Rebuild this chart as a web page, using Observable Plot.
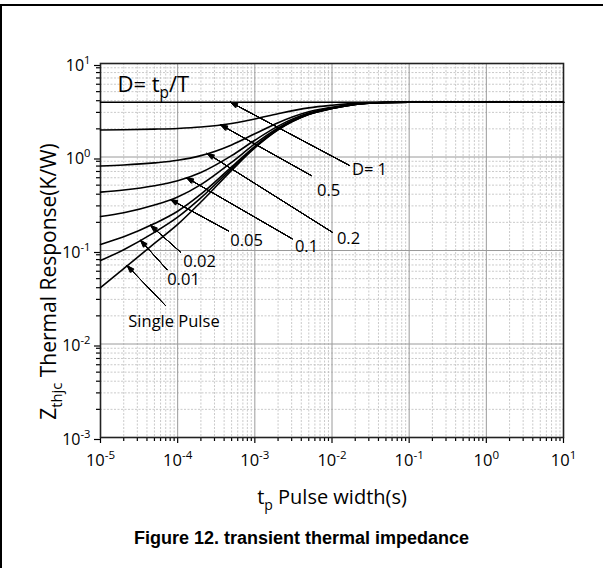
<!DOCTYPE html>
<html>
<head>
<meta charset="utf-8">
<script src="https://cdn.jsdelivr.net/npm/d3@7"></script>
<script src="https://cdn.jsdelivr.net/npm/@observablehq/plot@0.6"></script>
<style>
  html, body { margin: 0; padding: 0; background: #fff; }
  body { width: 603px; height: 568px; position: relative; overflow: hidden; }
  #border { position: absolute; left: 0; top: 3.5px; width: 620px; height: 600px;
            border-top: 2.5px solid #000; border-left: 2px solid #000; box-sizing: border-box; }
  #chart { position: absolute; left: 0; top: 0; }
  #cap { position: absolute; left: 0; top: 528px; width: 603px; text-align: center;
         font: bold 18px "Liberation Sans", Arial, sans-serif; color: #000; }
</style>
</head>
<body>
<div id="border"></div>
<div id="chart"></div>
<div id="cap">Figure 12. transient thermal impedance</div>
<script>
// ---- data ----
const pulseWidth = [1e-5, 2e-5, 5e-5, 1e-4, 2e-4, 5e-4, 1e-3, 2e-3, 5e-3, 1e-2, 2e-2, 5e-2, 1e-1, 1, 10];
const zSingle = [0.040, 0.064, 0.119, 0.190, 0.330, 0.720, 1.250, 1.950, 2.850, 3.300, 3.650, 3.830, 3.850, 3.850, 3.850];
const zD001   = [0.078, 0.102, 0.156, 0.227, 0.365, 0.751, 1.276, 1.969, 2.860, 3.305, 3.652, 3.830, 3.850, 3.850, 3.850];
const zD002   = [0.116, 0.140, 0.194, 0.263, 0.400, 0.783, 1.302, 1.988, 2.870, 3.311, 3.654, 3.830, 3.850, 3.850, 3.850];
const zD005   = [0.231, 0.253, 0.306, 0.373, 0.506, 0.877, 1.380, 2.045, 2.900, 3.330, 3.660, 3.830, 3.850, 3.850, 3.850];
const zD01    = [0.421, 0.443, 0.492, 0.556, 0.682, 1.033, 1.510, 2.140, 2.950, 3.355, 3.670, 3.832, 3.850, 3.850, 3.850];
const zD02    = [0.802, 0.821, 0.865, 0.922, 1.034, 1.346, 1.770, 2.330, 3.050, 3.410, 3.690, 3.834, 3.850, 3.850, 3.850];
const zD05    = [1.945, 1.957, 1.985, 2.020, 2.090, 2.285, 2.550, 2.900, 3.350, 3.575, 3.750, 3.840, 3.850, 3.850, 3.850];
const zD1     = [3.850, 3.850, 3.850, 3.850, 3.850, 3.850, 3.850, 3.850, 3.850, 3.850, 3.850, 3.850, 3.850, 3.850, 3.850];

const seriesNames = ["Single Pulse", "0.01", "0.02", "0.05", "0.1", "0.2", "0.5", "D= 1"];
const seriesValues = [zSingle, zD001, zD002, zD005, zD01, zD02, zD05, zD1];

// annotation labels with arrow tip (on curve), leader end and label centre (data units)
const annoLabel = ["D= 1", "0.5", "0.2", "0.1", "0.05", "0.02", "0.01", "Single Pulse"];
const annoTipT  = [4.84e-4, 3.59e-4, 2.41e-4, 1.30e-4, 8.07e-5, 4.45e-5, 3.30e-5, 2.22e-5];
const annoTipZ  = [3.85, 2.21, 1.092, 0.601, 0.351, 0.186, 0.1286, 0.0687];
const annoEndT  = [0.0169, 5.37e-3, 0.01006, 3.05e-3, 4.56e-4, 1.09e-4, 7.31e-5, 6.95e-5];
const annoEndZ  = [0.811, 0.634, 0.157, 0.1334, 0.1617, 0.0959, 0.0622, 0.0258];
const annoTextT = [0.0306, 9.02e-3, 0.01637, 4.67e-3, 7.80e-4, 1.92e-4, 1.19e-4, 8.96e-5];
const annoTextZ = [0.726, 0.433, 0.134, 0.110, 0.128, 0.0760, 0.0482, 0.0174];

// axis ticks
const xMajor = [1e-5, 1e-4, 1e-3, 1e-2, 1e-1, 1, 10];
const xTickLabels = ["10^{-5}", "10^{-4}", "10^{-3}", "10^{-2}", "10^{-1}", "10^{0}", "10^{1}"];
const yMajor = [1e-3, 1e-2, 1e-1, 1, 10];
const yTickLabels = ["10^{-3}", "10^{-2}", "10^{-1}", "10^{0}", "10^{1}"];
const titleText = "D= t_{p}/T";
const xLabel = "t_{p} Pulse width(s)";
const yLabel = "Z_{thjc} Thermal Response(K/W)";

// ---- build ----
const minorOf = (major) => {
  const out = [];
  for (let i = 0; i < major.length - 1; i++)
    for (let k = 2; k <= 9; k++) out.push(+(k * major[i]).toPrecision(6));
  return out;
};
const xMinor = minorOf(xMajor);
const yMinor = minorOf(yMajor);

const rows = seriesNames.flatMap((name, s) =>
  pulseWidth.map((t, i) => ({D: name, t, z: seriesValues[s][i]})));
const annos = annoLabel.map((label, i) => ({
  label, tipT: annoTipT[i], tipZ: annoTipZ[i], endT: annoEndT[i], endZ: annoEndZ[i],
  textT: annoTextT[i], textZ: annoTextZ[i]
}));

const xFmt = (d) => xTickLabels[xMajor.findIndex(v => Math.abs(Math.log10(v) - Math.log10(d)) < 1e-6)];
const yFmt = (d) => yTickLabels[yMajor.findIndex(v => Math.abs(Math.log10(v) - Math.log10(d)) < 1e-6)];

const headAngles = [8, 16, 24, 32, 40];

const chart = Plot.plot({
  width: 603,
  height: 515,
  marginLeft: 100,
  marginRight: 40,
  marginTop: 63,
  marginBottom: 78,
  style: {fontFamily: "'Open Sans', 'Noto Sans', sans-serif", fontSize: "16px", background: "transparent", color: "#000"},
  x: {type: "log", domain: [1e-5, 10]},
  y: {type: "log", domain: [1e-3, 10]},
  marks: [
    Plot.gridX(xMinor, {stroke: "#bdbdbd", strokeOpacity: 1, strokeWidth: 0.8, strokeDasharray: "2,1.5"}),
    Plot.gridY(yMinor, {stroke: "#bdbdbd", strokeOpacity: 1, strokeWidth: 0.8, strokeDasharray: "2,1.5"}),
    Plot.gridX(xMajor, {stroke: "#9a9a9a", strokeOpacity: 1, strokeWidth: 1}),
    Plot.gridY(yMajor, {stroke: "#9a9a9a", strokeOpacity: 1, strokeWidth: 1}),
    Plot.axisX(xMinor, {tickSize: 4, tickFormat: () => "", strokeWidth: 1.2}),
    Plot.axisY(yMinor, {tickSize: 4, tickFormat: () => "", strokeWidth: 1.2}),
    Plot.axisX(xMajor, {tickSize: 6, tickPadding: 11, tickFormat: xFmt, fontSize: 16.5, label: null, strokeWidth: 1.2}),
    Plot.axisY(yMajor, {tickSize: 6, tickPadding: 4, tickFormat: yFmt, fontSize: 16, dy: 2, label: null, strokeWidth: 1.2}),
    Plot.frame({stroke: "#222", strokeWidth: 1.6}),
    Plot.line(rows, {x: "t", y: "z", z: "D", curve: "monotone-x", stroke: "#000", strokeWidth: 1.6}),
    Plot.link(annos, {x1: "endT", y1: "endZ", x2: "tipT", y2: "tipZ", stroke: "#000", strokeWidth: 0.9}),
    ...headAngles.map(a => Plot.arrow(annos, {x1: "endT", y1: "endZ", x2: "tipT", y2: "tipZ",
      stroke: "#000", strokeWidth: 1, headAngle: a, headLength: 11, strokeOpacity: 1})),
    Plot.text(annos, {x: "textT", y: "textZ", text: "label", fontSize: 16.5, textAnchor: "middle", lineAnchor: "middle", fill: "#000"}),
    Plot.text([titleText], {frameAnchor: "top-left", dx: 17, dy: 13, fontSize: 22, textAnchor: "start", lineAnchor: "top", fill: "#000"}),
    Plot.text([xLabel], {frameAnchor: "bottom", dy: 60, fontSize: 20, textAnchor: "middle", lineAnchor: "middle", fill: "#000"}),
    Plot.text([yLabel], {frameAnchor: "left", dx: -51, dy: 31, rotate: -90, fontSize: 21, textAnchor: "middle", lineAnchor: "middle", fill: "#000"})
  ]
});

document.getElementById("chart").appendChild(chart);

// rich text: ^{...} superscript, _{...} subscript
const NS = "http://www.w3.org/2000/svg";
d3.select(chart).selectAll("text").each(function () {
  const el = this;
  const s = el.textContent;
  if (!/[\^_]\{/.test(s)) return;
  const fs = parseFloat(getComputedStyle(el).fontSize) || 16;
  el.textContent = "";
  const re = /([\^_])\{([^}]*)\}/g;
  let last = 0, m, pending = 0;
  const add = (str, dy, small) => {
    if (!str) return;
    const t = document.createElementNS(NS, "tspan");
    t.textContent = str;
    if (dy) t.setAttribute("dy", dy.toFixed(2));
    if (small) t.setAttribute("font-size", (fs * 0.7).toFixed(2));
    el.appendChild(t);
  };
  while ((m = re.exec(s))) {
    add(s.slice(last, m.index), pending, false);
    if (m.index > last) pending = 0;
    const shift = m[1] === "^" ? -0.42 * fs : 0.28 * fs;
    add(m[2], shift + pending, true);
    pending = -shift;
    last = re.lastIndex;
  }
  add(s.slice(last), pending, false);
});
</script>
</body>
</html>
